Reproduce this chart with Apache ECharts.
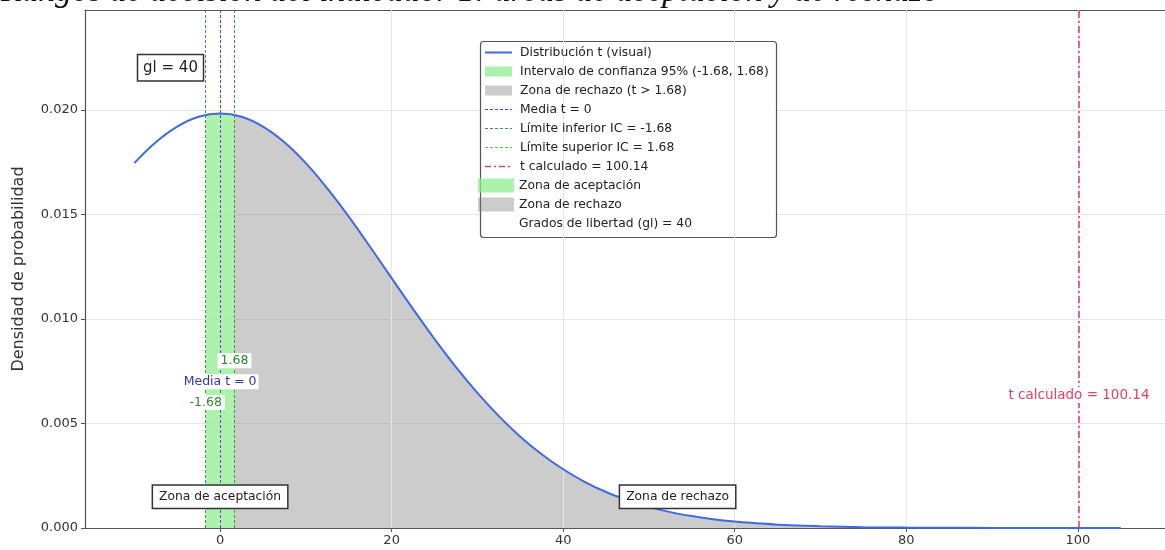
<!DOCTYPE html>
<html>
<head>
<meta charset="utf-8">
<script src="https://cdn.jsdelivr.net/npm/echarts@6/dist/echarts.min.js"></script>
<style>
html,body{margin:0;padding:0;background:#fff;}
#chart{width:1165px;height:550px;}
</style>
</head>
<body>
<div id="chart"></div>
<script>
// ---- data ----
const tValues = [-10, -7.5, -5, -2.5, 0, 2.5, 5, 7.5, 10, 12.5, 15, 17.5, 20, 22.5, 25, 27.5, 30,
  32.5, 35, 37.5, 40, 42.5, 45, 47.5, 50, 52.5, 55, 57.5, 60, 62.5, 65, 67.5, 70, 75, 80, 85, 90, 95, 100, 105];
const density = [0.01745, 0.01845, 0.01920, 0.01967, 0.01982, 0.01967, 0.01920, 0.01845, 0.01745,
  0.01624, 0.01489, 0.01344, 0.01195, 0.01047, 0.00904, 0.00769, 0.00646, 0.00535, 0.00437, 0.00353, 0.00281,
  0.00221, 0.00172, 0.00133, 0.00101, 0.00076, 0.00057, 0.00042, 0.00031, 0.00023, 0.00016, 0.00012, 0.00008,
  0.00004, 0.00002, 0.00001, 0.000005, 0.000002, 0.000001, 0.0000004];
const ciBounds = [-1.68, 1.68];
const ciBoundDensity = [0.01975, 0.01975];
const xTickValues = [0, 20, 40, 60, 80, 100];
const yTickValues = [0, 0.005, 0.010, 0.015, 0.020];
const tMean = 0;
const tCalc = 100.14;
const degreesOfFreedom = 40;

const titleText = 'Rangos de decisión del indicador 1: áreas de aceptación y de rechazo';
const yName = 'Densidad de probabilidad';

// ---- derived ----
const ciLower = ciBounds[0], ciUpper = ciBounds[1];
const nameCurve = 'Distribución t (visual)';
const nameCI = 'Intervalo de confianza 95% (' + ciLower.toFixed(2) + ', ' + ciUpper.toFixed(2) + ')';
const nameReject = 'Zona de rechazo (t > ' + ciUpper.toFixed(2) + ')';
const nameMean = 'Media t = ' + tMean;
const nameLow = 'Límite inferior IC = ' + ciLower.toFixed(2);
const nameHigh = 'Límite superior IC = ' + ciUpper.toFixed(2);
const nameCalc = 't calculado = ' + tCalc.toFixed(2);
const nameAccZone = 'Zona de aceptación';
const nameRejZone = 'Zona de rechazo';
const nameGl = 'Grados de libertad (gl) = ' + degreesOfFreedom;

const pts = tValues.map((x, i) => [x, density[i]]);
const lowPt = [ciLower, ciBoundDensity[0]];
const highPt = [ciUpper, ciBoundDensity[1]];
const ciPts = [lowPt].concat(pts.filter(p => p[0] > ciLower && p[0] < ciUpper), [highPt]);
const rejPts = [highPt].concat(pts.filter(p => p[0] > ciUpper));
const xSpan = tValues[tValues.length - 1] - tValues[0];
const xMin = tValues[0] - 0.05 * xSpan;
const xMax = tValues[tValues.length - 1] + 0.05 * xSpan;
const yMax = 1.25 * Math.max(...density);

const FONT = 'DejaVu Sans';
const GREEN_FILL = 'rgba(144,238,144,0.75)';
const GRAY_FILL = 'rgba(128,128,128,0.4)';
const BLUE = '#4169e1';
const MEAN_C = '#4a4ad6';
const GREEN_L = '#3c9a3c';
const GREEN_L2 = '#5cb85c';
const RED = '#e34363';
const SPINE = '#555';

const chart = echarts.init(document.getElementById('chart'), null, {renderer: 'canvas'});

function textMark(coord, text, style) {
  return {
    coord: coord, symbol: 'circle', symbolSize: 1,
    itemStyle: {color: 'rgba(0,0,0,0)'},
    label: Object.assign({show: true, position: 'inside', formatter: text, fontFamily: FONT}, style)
  };
}

const option = {
  backgroundColor: '#fff',
  animation: false,
  grid: {left: 85, top: 10, width: 1085, height: 518, show: false, outerBoundsMode: 'none', containLabel: false},
  xAxis: [
    {
      type: 'value', min: xMin, max: xMax,
      axisLine: {show: true, onZero: false, lineStyle: {color: SPINE, width: 1.2}},
      axisTick: {show: true, length: 4, lineStyle: {color: SPINE}, customValues: xTickValues},
      axisLabel: {customValues: xTickValues, fontFamily: FONT, fontSize: 13, color: '#333', margin: 6},
      splitLine: {show: false}
    },
    {
      type: 'value', min: xMin, max: xMax, position: 'top',
      axisLine: {show: true, onZero: false, lineStyle: {color: SPINE, width: 1.2}},
      axisTick: {show: false}, axisLabel: {show: false}, splitLine: {show: false}
    }
  ],
  yAxis: {
    type: 'value', min: 0, max: yMax, interval: 0.005,
    name: yName, nameLocation: 'middle', nameGap: 58,
    nameTextStyle: {fontFamily: FONT, fontSize: 16, color: '#333'},
    axisLine: {show: true, onZero: false, lineStyle: {color: SPINE, width: 1.2}},
    axisTick: {show: true, length: 4, lineStyle: {color: SPINE}, customValues: yTickValues},
    axisLabel: {customValues: yTickValues, fontFamily: FONT, fontSize: 13, color: '#333', margin: 7,
      formatter: v => v.toFixed(3)},
    splitLine: {show: true, lineStyle: {color: '#e6e6e6', width: 1}}
  },
  legend: [
    {
      orient: 'vertical', left: 484, top: 45, padding: 0, itemGap: 4, itemWidth: 27, itemHeight: 10,
      selectedMode: false, z: 6,
      textStyle: {fontFamily: FONT, fontSize: 12.3, color: '#222', lineHeight: 15, padding: [0, 0, 0, 3]},
      data: [
        {name: nameCurve, itemStyle: {opacity: 0}, lineStyle: {color: BLUE, width: 2, type: 'solid'}},
        {name: nameCI, icon: 'rect', itemStyle: {color: GREEN_FILL, borderWidth: 0}},
        {name: nameReject, icon: 'rect', itemStyle: {color: GRAY_FILL, borderWidth: 0}},
        {name: nameMean, itemStyle: {opacity: 0}, lineStyle: {color: MEAN_C, width: 1, type: [3, 2]}},
        {name: nameLow, itemStyle: {opacity: 0}, lineStyle: {color: GREEN_L, width: 1, type: [3, 2]}},
        {name: nameHigh, itemStyle: {opacity: 0}, lineStyle: {color: GREEN_L2, width: 1, type: [3, 2]}},
        {name: nameCalc, itemStyle: {opacity: 0}, lineStyle: {color: RED, width: 1.5, type: [6, 3, 2, 3]}}
      ]
    },
    {
      orient: 'vertical', left: 478, top: 178, padding: 0, itemGap: 4, itemWidth: 36, itemHeight: 14,
      selectedMode: false, z: 6,
      textStyle: {fontFamily: FONT, fontSize: 12.3, color: '#222', lineHeight: 15},
      data: [
        {name: nameAccZone, icon: 'rect', itemStyle: {color: GREEN_FILL, borderWidth: 0}},
        {name: nameRejZone, icon: 'rect', itemStyle: {color: GRAY_FILL, borderWidth: 0}},
        {name: nameGl, icon: 'rect', itemStyle: {color: 'rgba(0,0,0,0)', borderWidth: 0}}
      ]
    }
  ],
  graphic: [
    {type: 'text', z: 10, style: {x: 470, y: -8, text: titleText, align: 'center', verticalAlign: 'middle',
      font: 'italic 33.5px "Liberation Serif"', fill: '#111'}},
    {type: 'rect', z: 5, shape: {x: 480.5, y: 41.5, width: 296, height: 196, r: 3},
      style: {fill: 'rgba(255,255,255,0.85)', stroke: SPINE, lineWidth: 1.2}},
    {type: 'rect', z: 10, shape: {x: 137.5, y: 54.5, width: 66, height: 26.5},
      style: {fill: '#fff', stroke: '#333', lineWidth: 1.5}},
    {type: 'text', z: 11, style: {x: 170.5, y: 68, text: 'gl = ' + degreesOfFreedom, align: 'center', verticalAlign: 'middle',
      font: '15px "DejaVu Sans"', fill: '#222'}}
  ],
  series: [
    {
      name: 'grid-x', type: 'line', data: [], silent: true, z: 0,
      markLine: {silent: true, symbol: ['none', 'none'], label: {show: false}, animation: false,
        lineStyle: {color: '#e6e6e6', width: 1, type: 'solid'},
        data: xTickValues.map(v => ({xAxis: v}))}
    },
    {
      name: nameCI, type: 'line', data: ciPts, symbol: 'none', smooth: 0.3, z: 2,
      lineStyle: {width: 0}, areaStyle: {color: GREEN_FILL, opacity: 1, origin: 'start'}
    },
    {
      name: nameReject, type: 'line', data: rejPts, symbol: 'none', smooth: 0.4, z: 2,
      lineStyle: {width: 0}, areaStyle: {color: GRAY_FILL, opacity: 1, origin: 'start'}
    },
    {
      name: nameMean, type: 'line', data: [], z: 4, lineStyle: {color: MEAN_C, width: 1, type: [3, 2]},
      markLine: {silent: true, symbol: ['none', 'none'], label: {show: false}, animation: false,
        lineStyle: {color: MEAN_C, width: 1, type: [3, 2]}, data: [{xAxis: tMean}]},
      markPoint: {z: 8, animation: false, data: [textMark([tMean, 0.007], nameMean,
        {fontSize: 12.5, color: '#3434a8', backgroundColor: '#fff', padding: [1, 2]})]}
    },
    {
      name: nameLow, type: 'line', data: [], z: 4, lineStyle: {color: GREEN_L, width: 1, type: [3, 2]},
      markLine: {silent: true, symbol: ['none', 'none'], label: {show: false}, animation: false,
        lineStyle: {color: GREEN_L, width: 1, type: [3, 2]}, data: [{xAxis: ciLower}]},
      markPoint: {z: 8, animation: false, data: [textMark([ciLower, 0.006], ciLower.toFixed(2),
        {fontSize: 12.5, color: '#2f862f', backgroundColor: '#fff', padding: [1, 3]})]}
    },
    {
      name: nameHigh, type: 'line', data: [], z: 4, lineStyle: {color: GREEN_L2, width: 1, type: [3, 2]},
      markLine: {silent: true, symbol: ['none', 'none'], label: {show: false}, animation: false,
        lineStyle: {color: GREEN_L, width: 1, type: [3, 2]}, data: [{xAxis: ciUpper}]},
      markPoint: {z: 8, animation: false, data: [textMark([ciUpper, 0.008], ciUpper.toFixed(2),
        {fontSize: 12.5, color: '#2f862f', backgroundColor: '#fff', padding: [1, 3]})]}
    },
    {
      name: nameCalc, type: 'line', data: [], z: 4, lineStyle: {color: RED, width: 1.5, type: [6, 3, 2, 3]},
      markLine: {silent: true, symbol: ['none', 'none'], label: {show: false}, animation: false,
        lineStyle: {color: RED, width: 1.6, type: [7, 3, 2, 3]}, data: [{xAxis: tCalc}]},
      markPoint: {z: 8, animation: false, data: [textMark([tCalc, 0.00636], nameCalc,
        {fontSize: 13.5, color: RED, backgroundColor: '#fff', padding: [1, 1]})]}
    },
    {
      name: nameCurve, type: 'line', data: pts, symbol: 'none', smooth: 0.4, z: 5,
      lineStyle: {color: BLUE, width: 2}
    },
    {
      name: nameAccZone, type: 'line', data: [], z: 6,
      markPoint: {z: 9, animation: false, data: [textMark([tMean, 0.0015], nameAccZone,
        {fontSize: 12.3, color: '#222', backgroundColor: '#fff', borderColor: '#333', borderWidth: 1.5, padding: [5, 6, 5, 6]})]}
    },
    {
      name: nameRejZone, type: 'line', data: [], z: 6,
      markPoint: {z: 9, animation: false, data: [textMark([(ciUpper + tValues[tValues.length - 1]) / 2, 0.0015], nameRejZone,
        {fontSize: 12.3, color: '#222', backgroundColor: '#fff', borderColor: '#333', borderWidth: 1.5, padding: [5, 6, 5, 6]})]}
    },
    {name: nameGl, type: 'line', data: [], z: 1}
  ]
};
chart.setOption(option);
</script>
</body>
</html>
